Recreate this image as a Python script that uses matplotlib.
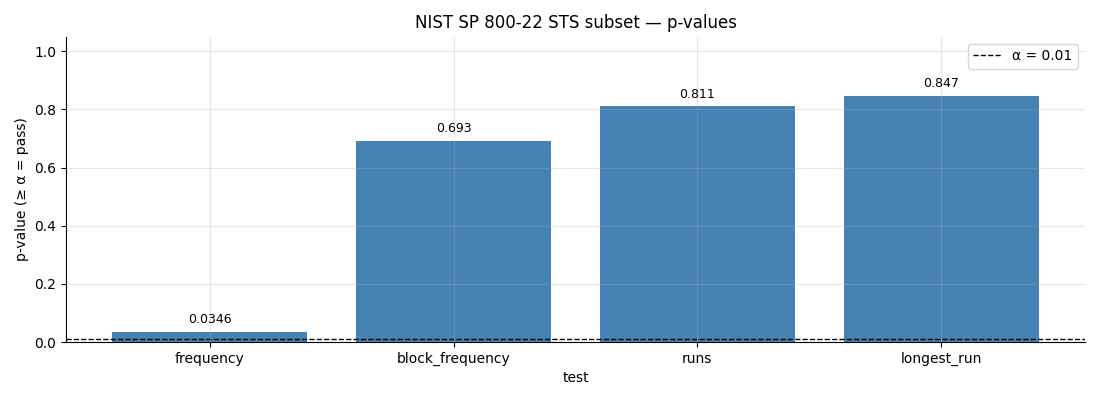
import matplotlib
matplotlib.use("Agg")
import matplotlib.pyplot as plt

tests = ["frequency", "block_frequency", "runs", "longest_run"]
pvalues = [0.0346, 0.693, 0.811, 0.847]
labels = ["0.0346", "0.693", "0.811", "0.847"]
alpha = 0.01

fig, ax = plt.subplots(figsize=(11, 4), dpi=100)
bars = ax.bar(tests, pvalues, color="steelblue", width=0.8)
ax.axhline(alpha, color="black", linestyle="--", linewidth=1, label="α = 0.01")
ax.bar_label(bars, labels=labels, padding=4, fontsize=9)
ax.set_ylim(0, 1.05)
ax.set_title("NIST SP 800-22 STS subset — p-values", fontsize=12)
ax.set_xlabel("test")
ax.set_ylabel("p-value (≥ α = pass)")
ax.grid(True, alpha=0.3)
ax.set_axisbelow(False)
ax.spines["top"].set_visible(False)
ax.spines["right"].set_visible(False)
ax.legend(loc="upper right")
fig.subplots_adjust(left=0.06, right=0.9864, top=0.908, bottom=0.145)
fig.savefig("out.png", dpi=100)
